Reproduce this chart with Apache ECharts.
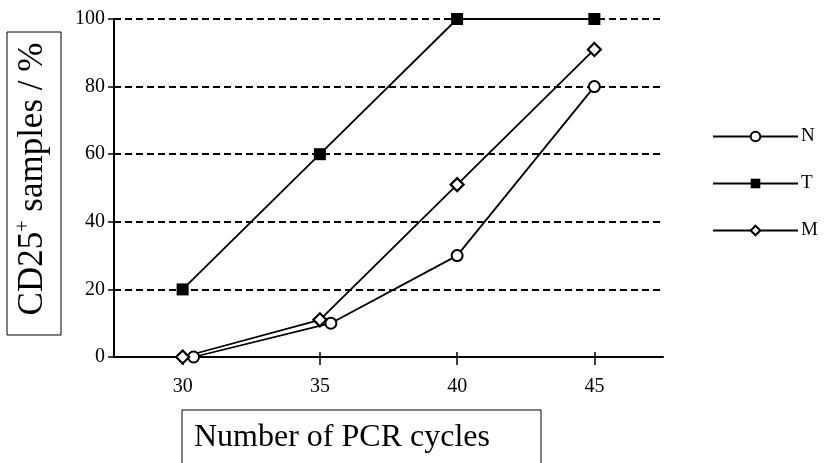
<!DOCTYPE html>
<html>
<head>
<meta charset="utf-8">
<script src="https://cdn.jsdelivr.net/npm/echarts@6/dist/echarts.min.js"></script>
<style>html,body{margin:0;padding:0;background:#fff}#c{width:829px;height:463px}</style>
</head>
<body>
<div id="c"></div>
<script>
// Data
const xTicks = [30, 35, 40, 45];
const seriesNames = ['N', 'T', 'M'];
const xN = [30.4, 35.4, 40, 45];
const yN = [0, 10, 30, 80];
const xT = [30, 35, 40, 45];
const yT = [20, 60, 100, 100];
const xM = [30, 35, 40, 45];
const yM = [0, 11, 51, 91];
const yTitle = 'CD25';
const yTitleSup = '+';
const yTitleRest = ' samples / %';
const xTitle = 'Number of PCR cycles';

const FONT = '"Liberation Serif", "Times New Roman", serif';
const pairs = (xs, ys) => xs.map((x, i) => [x, ys[i]]);

const chart = echarts.init(document.getElementById('c'), null, {renderer: 'canvas'});
chart.setOption({
  animation: false,
  backgroundColor: '#fff',
  grid: {left: 114, right: 166, top: 19, bottom: 106, containLabel: false},
  xAxis: [{
    type: 'value', min: 27.5, max: 47.5, position: 'bottom',
    axisLine: {show: true, onZero: false, lineStyle: {color: '#000', width: 2}},
    axisTick: {show: true, customValues: xTicks, length: 8, inside: false, lineStyle: {color: '#000', width: 1.5}},
    axisLabel: {show: true, customValues: xTicks, margin: 20, color: '#000', fontFamily: FONT, fontSize: 20},
    splitLine: {show: false}
  }, {
    type: 'value', min: 27.5, max: 47.5, position: 'bottom',
    axisLine: {show: false},
    axisTick: {show: true, customValues: xTicks, length: 5, inside: true, lineStyle: {color: '#000', width: 1.5}},
    axisLabel: {show: false},
    splitLine: {show: false}
  }],
  yAxis: [{
    type: 'value', min: 0, max: 100, interval: 20, position: 'left',
    axisLine: {show: true, lineStyle: {color: '#000', width: 2}},
    axisTick: {show: true, length: 6, inside: false, lineStyle: {color: '#000', width: 1.5}},
    axisLabel: {margin: 9, color: '#000', fontFamily: FONT, fontSize: 20},
    splitLine: {show: true, lineStyle: {color: '#000', width: 1.8, type: [7, 4]}}
  }, {
    type: 'value', min: 0, max: 100, interval: 20, position: 'left',
    axisLine: {show: false},
    axisTick: {show: true, length: 4, inside: true, lineStyle: {color: '#000', width: 1.5}},
    axisLabel: {show: false},
    splitLine: {show: false}
  }],
  legend: {
    orient: 'vertical', left: 712, top: 127, padding: 0,
    itemWidth: 85, itemHeight: 12, itemGap: 28,
    textStyle: {color: '#000', fontFamily: FONT, fontSize: 19, padding: [0, 0, 0, -2]},
    data: seriesNames
  },
  series: [{
    name: seriesNames[0], type: 'line', data: pairs(xN, yN),
    symbol: 'circle', symbolSize: 11,
    lineStyle: {color: '#000', width: 1.8},
    itemStyle: {color: '#fff', borderColor: '#000', borderWidth: 2},
    z: 3
  }, {
    name: seriesNames[1], type: 'line', data: pairs(xT, yT),
    symbol: 'rect', symbolSize: 12,
    lineStyle: {color: '#000', width: 1.8},
    itemStyle: {color: '#000', borderColor: '#000', borderWidth: 0},
    z: 3
  }, {
    name: seriesNames[2], type: 'line', data: pairs(xM, yM),
    symbol: 'diamond', symbolSize: 13,
    lineStyle: {color: '#000', width: 1.8},
    itemStyle: {color: '#fff', borderColor: '#000', borderWidth: 2.2},
    z: 3
  }],
  graphic: [{
    type: 'rect', shape: {x: 7, y: 32, width: 54, height: 303},
    style: {fill: 'none', stroke: '#000', lineWidth: 1}
  }, {
    type: 'text', x: 33, y: 179, rotation: Math.PI / 2,
    style: {
      text: '{a|' + yTitle + '}{s|' + yTitleSup + '}{a|' + yTitleRest + '}',
      align: 'center', verticalAlign: 'middle',
      rich: {
        a: {fontFamily: FONT, fontSize: 35, lineHeight: 38, fill: '#000', color: '#000'},
        s: {fontFamily: FONT, fontSize: 20, lineHeight: 38, fill: '#000', color: '#000', verticalAlign: 'top', padding: [0, 0, 15, 0]}
      }
    }
  }, {
    type: 'rect', shape: {x: 182, y: 410, width: 359, height: 70},
    style: {fill: 'none', stroke: '#000', lineWidth: 1}
  }, {
    type: 'text', x: 194, y: 438,
    style: {text: xTitle, fontFamily: FONT, fontSize: 32, fill: '#000', align: 'left', verticalAlign: 'middle'}
  }]
});
</script>
</body>
</html>
